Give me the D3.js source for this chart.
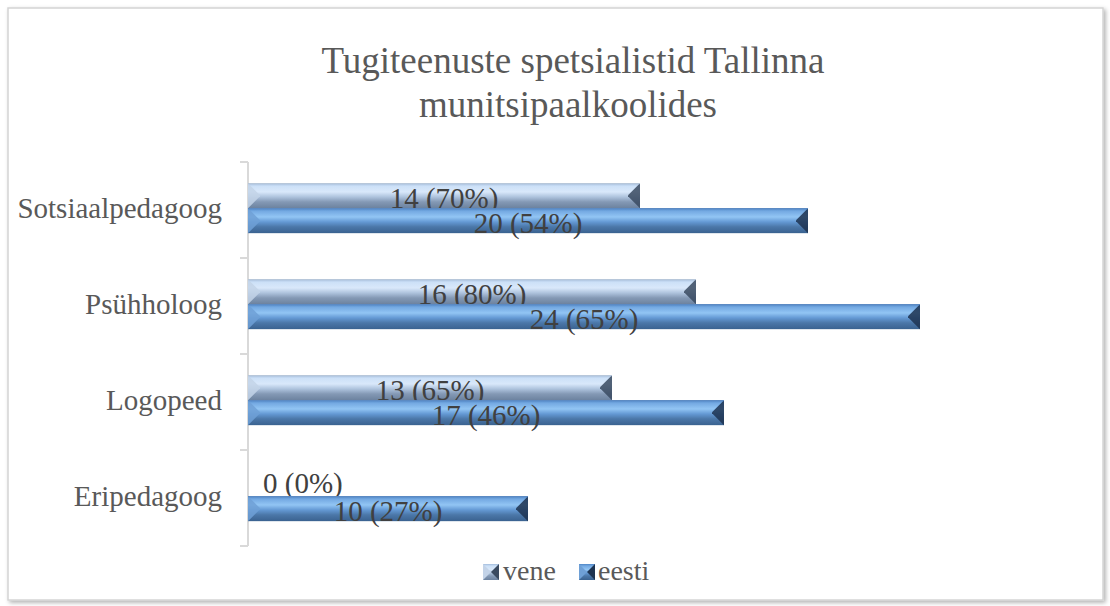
<!DOCTYPE html>
<html lang="et">
<head>
<meta charset="utf-8">
<title>Tugiteenuste spetsialistid</title>
<script src="https://cdn.jsdelivr.net/npm/d3@7"></script>
<style>
  body { margin: 0; background: #fff; }
</style>
</head>
<body>
<script>
// data (Excel order, bottom to top)
var categories = ["Eripedagoog", "Logopeed", "Psühholoog", "Sotsiaalpedagoog"];
var seriesNames = ["vene", "eesti"];
var veneValues = [0, 13, 16, 14];
var venePct = [0, 65, 80, 70];
var eestiValues = [10, 17, 24, 20];
var eestiPct = [27, 46, 65, 54];

var w = 1110, h = 606;
var serif = "'Liberation Serif', 'Times New Roman', 'DejaVu Serif', serif";

var svg = d3.select("body").append("svg")
    .attr("width", w)
    .attr("height", h)
    .attr("font-family", serif);

var defs = svg.append("defs");

// drop shadow for chart frame
var f = defs.append("filter").attr("id", "shadow")
    .attr("x", "-5%").attr("y", "-5%").attr("width", "110%").attr("height", "110%");
f.append("feDropShadow").attr("dx", 2).attr("dy", 2)
    .attr("stdDeviation", 2).attr("flood-color", "#000").attr("flood-opacity", 0.3);

// bar gradients (vertical)
function grad(id, stops) {
    var g = defs.append("linearGradient").attr("id", id)
        .attr("x1", 0).attr("y1", 0).attr("x2", 0).attr("y2", 1);
    stops.forEach(function(s) {
        g.append("stop").attr("offset", s[0]).attr("stop-color", s[1]);
    });
}
grad("g-vene", [[0, "#a3bcdc"], [0.12, "#cce0f7"], [0.35, "#d9e8fa"], [0.55, "#aec3dd"],
                [0.75, "#8499b5"], [1, "#6c829f"]]);
grad("g-eesti", [[0, "#4f86c6"], [0.12, "#74a9e2"], [0.35, "#92c5f4"], [0.55, "#6499d4"],
                 [0.75, "#4b77a8"], [1, "#3a6290"]]);

// frame
svg.append("rect")
    .attr("x", 8).attr("y", 8)
    .attr("width", 1095).attr("height", 592)
    .attr("fill", "#fff")
    .attr("stroke", "#d4d4d4")
    .attr("stroke-width", 1.5)
    .attr("filter", "url(#shadow)");

// title
var title = svg.append("text")
    .attr("x", 573)
    .attr("text-anchor", "middle")
    .attr("font-size", "37px")
    .attr("fill", "#595959");
title.append("tspan").attr("x", 573).attr("y", 73).text("Tugiteenuste spetsialistid Tallinna");
title.append("tspan").attr("x", 568).attr("y", 117).text("munitsipaalkoolides");

// scales
var x = d3.scaleLinear().domain([0, 30]).range([248, 1088]);

var y = d3.scaleBand()
    .domain(categories.slice().reverse())
    .range([162, 546])
    .padding(0);

var ySub = d3.scaleBand()
    .domain(seriesNames)
    .range([0, y.bandwidth()])
    .paddingInner(0)
    .paddingOuter(0.92)
    .align(0.46);

// category axis
var axisG = svg.append("g").attr("transform", "translate(" + x(0) + ",0)");
axisG.append("line")
    .attr("x1", 0).attr("x2", 0)
    .attr("y1", y.range()[0]).attr("y2", y.range()[1])
    .attr("stroke", "#d9d9d9").attr("stroke-width", 2);
var bounds = y.domain().map(function(c) { return y(c); }).concat([y.range()[1]]);
axisG.selectAll("line.tick")
    .data(bounds)
    .enter().append("line")
    .attr("class", "tick")
    .attr("x1", -8).attr("x2", 0)
    .attr("y1", function(d) { return d; })
    .attr("y2", function(d) { return d; })
    .attr("stroke", "#d9d9d9").attr("stroke-width", 2);

svg.selectAll("text.cat")
    .data(categories)
    .enter().append("text")
    .attr("class", "cat")
    .attr("x", 222)
    .attr("y", function(d) { return y(d) + y.bandwidth() / 2 + 8; })
    .attr("text-anchor", "end")
    .attr("font-size", "29px")
    .attr("fill", "#595959")
    .text(function(d) { return d; });

// bars
var rows = [];
categories.forEach(function(c, i) {
    rows.push({cat: c, s: "vene", v: veneValues[i], p: venePct[i]});
    rows.push({cat: c, s: "eesti", v: eestiValues[i], p: eestiPct[i]});
});

var bev = 12;
var barG = svg.append("g");
rows.forEach(function(d) {
    var x0 = x(0), x1 = x(d.v);
    var top = y(d.cat) + ySub(d.s), bot = top + ySub.bandwidth();
    if (d.v > 0) {
        barG.append("rect")
            .attr("x", x0).attr("y", top)
            .attr("width", x1 - x0).attr("height", bot - top)
            .attr("fill", "url(#g-" + d.s + ")");
        var b = Math.min(bev, (x1 - x0) / 2);
        // left bevel (light)
        barG.append("polygon")
            .attr("points", [[x0, top], [x0 + b, top + bev], [x0 + b, bot - bev], [x0, bot]].join(" "))
            .attr("fill", d.s === "vene" ? "#c3d3e8" : "#6fa0d6")
            .attr("opacity", 0.85);
        // right bevel (dark)
        barG.append("polygon")
            .attr("points", [[x1, top], [x1 - b, top + bev], [x1 - b, bot - bev], [x1, bot]].join(" "))
            .attr("fill", d.s === "vene" ? "#3a4a60" : "#1d3350")
            .attr("opacity", 0.85);
        barG.append("line")
            .attr("x1", x0).attr("x2", x1).attr("y1", top + 0.5).attr("y2", top + 0.5)
            .attr("stroke", d.s === "vene" ? "#b8c6d8" : "#5a88c0").attr("stroke-width", 1);
    }
    barG.append("text")
        .attr("x", d.v > 0 ? (x0 + x1) / 2 : x0 + 15)
        .attr("y", bot - (d.v > 0 ? 0 : 3))
        .attr("text-anchor", d.v > 0 ? "middle" : "start")
        .attr("font-size", "29px")
        .attr("fill", "#404040")
        .text(d.v + " (" + d.p + "%)");
});

// legend
var legend = [{s: "vene", x: 483, tx: 503}, {s: "eesti", x: 579, tx: 598}];
legend.forEach(function(l) {
    var g = svg.append("g");
    g.append("rect")
        .attr("x", l.x).attr("y", 564)
        .attr("width", 16).attr("height", 16)
        .attr("fill", "url(#g-" + l.s + ")");
    g.append("polygon")
        .attr("points", [[l.x, 564], [l.x + 8, 572], [l.x, 580]].join(" "))
        .attr("fill", l.s === "vene" ? "#c3d3e8" : "#6fa0d6");
    g.append("polygon")
        .attr("points", [[l.x + 16, 564], [l.x + 8, 572], [l.x + 16, 580]].join(" "))
        .attr("fill", l.s === "vene" ? "#3a4a60" : "#1d3350");
    g.append("text")
        .attr("x", l.tx).attr("y", 580)
        .attr("font-size", "28px")
        .attr("fill", "#595959")
        .text(l.s);
});
</script>
</body>
</html>
